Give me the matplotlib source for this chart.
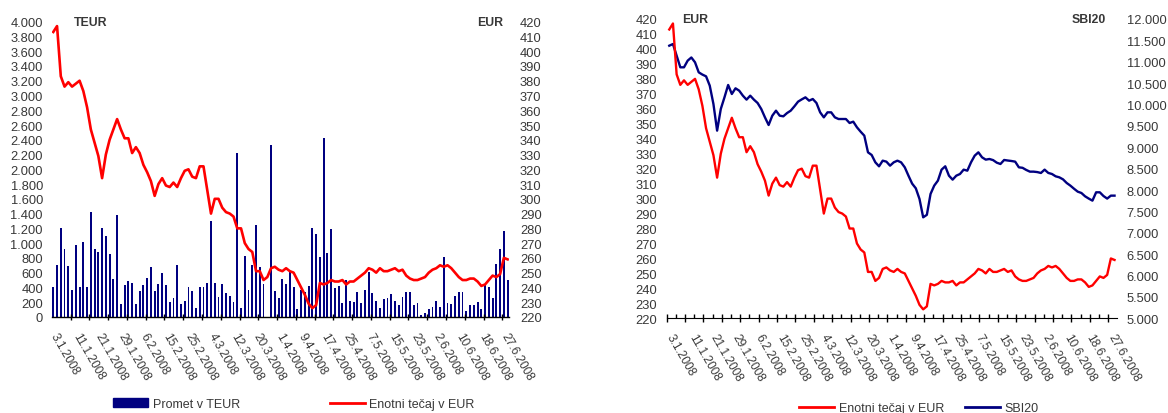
import matplotlib.pyplot as plt
from matplotlib.ticker import FixedLocator, FuncFormatter, MultipleLocator
from matplotlib.lines import Line2D
from matplotlib.patches import Patch

plt.rcParams["font.family"] = ["Liberation Sans", "DejaVu Sans"]
plt.rcParams["font.size"] = 8.7

dates = ["3.1.2008", "11.1.2008", "21.1.2008", "29.1.2008", "6.2.2008", "15.2.2008",
         "25.2.2008", "4.3.2008", "12.3.2008", "20.3.2008", "1.4.2008", "9.4.2008",
         "17.4.2008", "25.4.2008", "7.5.2008", "15.5.2008", "23.5.2008", "2.6.2008",
         "10.6.2008", "18.6.2008", "27.6.2008"]

# Enotni tecaj v EUR (daily)
price = [413, 417, 383, 376, 379, 376, 378, 380, 373, 362,
         347, 338, 329, 314, 330, 340, 347, 354, 347, 341,
         341, 331, 335, 331, 323, 318, 312, 302, 310, 314,
         309, 308, 311, 308, 314, 319, 320, 315, 314, 322,
         322, 306, 290, 300, 300, 294, 291, 290, 288, 280,
         280, 270, 266, 264, 251, 251, 245, 247, 253, 254,
         252, 251, 253, 251, 250, 245, 240, 235, 229, 226,
         228, 243, 242, 243, 245, 244, 244, 245, 242, 244,
         244, 246, 248, 250, 253, 252, 250, 253, 251, 251,
         252, 253, 251, 252, 248, 246, 245, 245, 246, 247,
         250, 252, 253, 255, 254, 255, 253, 250, 247, 245,
         245, 246, 246, 244, 241, 242, 245, 248, 247, 249,
         260, 259]

# Promet v TEUR (daily)
turnover = [400, 700, 1200, 915, 685, 360, 970, 400, 1010, 400,
            1420, 920, 880, 1200, 1100, 850, 520, 1380, 170, 430,
            490, 465, 170, 350, 430, 530, 670, 350, 440, 590,
            430, 200, 250, 700, 170, 220, 400, 350, 120, 400,
            410, 460, 1300, 460, 270, 440, 320, 280, 200, 2220,
            120, 830, 370, 700, 1250, 670, 440, 0, 2330, 350,
            257, 515, 447, 628, 406, 108, 366, 334, 424, 1206,
            1124, 817, 2430, 867, 1192, 397, 424, 194, 501, 217,
            199, 343, 194, 366, 605, 325, 217, 126, 244, 257,
            312, 217, 167, 267, 339, 339, 163, 190, 27, 50,
            108, 131, 217, 136, 817, 190, 176, 285, 339, 339,
            81, 163, 163, 203, 108, 434, 406, 257, 718, 921,
            1165, 501]

# SBI20 index (daily)
sbi20 = [11376, 11415, 11143, 10870, 10870, 11026, 11100, 10987, 10753, 10700,
         10659, 10441, 10012, 9389, 9895, 10168, 10457, 10246, 10379, 10324,
         10207, 10114, 10207, 10114, 10036, 9895, 9700, 9521, 9739, 9856,
         9739, 9724, 9800, 9856, 9957, 10067, 10120, 10168, 10090, 10129,
         10036, 9817, 9700, 9817, 9817, 9700, 9661, 9661, 9661, 9568,
         9599, 9467, 9365, 9272, 8882, 8820, 8648, 8555, 8687, 8664,
         8570, 8648, 8687, 8648, 8531, 8336, 8150, 8040, 7791, 7362,
         7420, 7908, 8103, 8220, 8477, 8555, 8336, 8243, 8336, 8375,
         8477, 8453, 8648, 8804, 8882, 8765, 8711, 8726, 8700, 8640,
         8609, 8703, 8690, 8679, 8664, 8531, 8520, 8470, 8430, 8430,
         8420, 8399, 8477, 8400, 8375, 8321, 8297, 8250, 8165, 8103,
         8030, 7962, 7931, 7853, 7800, 7752, 7947, 7947, 7860, 7800,
         7869, 7869]

days = list(range(len(price)))
label_pos = days[::6]

NAVY = "#000080"
RED = "#ff0000"
TXT = "#383838"
YFS = 9.3


def dotfmt(v, pos):
    return f"{int(round(v)):,}".replace(",", ".")


def style(ax):
    for s in ["left", "right", "top"]:
        ax.spines[s].set_visible(False)
    ax.tick_params(axis="y", length=0, colors=TXT, labelsize=YFS)


def date_labels(ax):
    sec = ax.secondary_xaxis("bottom")
    sec.spines["bottom"].set_visible(False)
    sec.set_xticks(label_pos)
    sec.set_xticklabels(dates, rotation=-60, ha="left", va="center",
                        rotation_mode="anchor", color=TXT, fontsize=8.6)
    sec.tick_params(axis="x", length=0, pad=12)


fig = plt.figure(figsize=(11.68, 4.14), dpi=100)

# ---- left chart: turnover bars + price line
ax1 = fig.add_axes([0.0445, 0.232, 0.3917, 0.7133])
ax1.bar(days, turnover, width=0.5, color=NAVY)
ax1.set_ylim(0, 4000)
ax1.set_xlim(-0.35, 121.5)
ax1.yaxis.set_major_locator(MultipleLocator(200))
ax1.yaxis.set_major_formatter(FuncFormatter(dotfmt))
style(ax1)
ax1.tick_params(axis="y", pad=6.5)
ax1.xaxis.set_major_locator(FixedLocator([-0.4 + 5 * k for k in range(25)]))
ax1.tick_params(axis="x", direction="inout", length=5, width=1, labelbottom=False)
ax1.spines["bottom"].set_linewidth(1)
date_labels(ax1)

ax1b = ax1.twinx()
ax1b.plot(days, price, color=RED, linewidth=1.9)
ax1b.set_ylim(220, 420)
ax1b.yaxis.set_major_locator(MultipleLocator(10))
style(ax1b)
ax1b.spines["bottom"].set_visible(False)
ax1b.tick_params(axis="y", pad=7.5)

fig.text(74 / 1168, 1 - 22.7 / 414, "TEUR", ha="left", va="center",
         weight="bold", color=TXT, fontsize=8.8)
fig.text(503 / 1168, 1 - 22.7 / 414, "EUR", ha="right", va="center",
         weight="bold", color=TXT, fontsize=8.8)

h1 = [Patch(color=NAVY), Line2D([], [], color=RED, linewidth=2)]
fig.legend(h1, ["Promet v TEUR", "Enotni tečaj v EUR"], loc="center left",
           bbox_to_anchor=(107 / 1168, 1 - 405 / 414), ncol=2, frameon=False,
           handlelength=2.8, handletextpad=0.35, columnspacing=7.2, borderpad=0,
           fontsize=9, labelcolor=TXT)

# ---- right chart: price line + SBI20
ax2 = fig.add_axes([0.5708, 0.2287, 0.3855, 0.723])
ax2.plot(days, price, color=RED, linewidth=1.7)
ax2.set_ylim(220, 420)
ax2.set_xlim(-0.7, 121.66)
ax2.yaxis.set_major_locator(MultipleLocator(10))
style(ax2)
ax2.tick_params(axis="y", pad=7)
ax2.xaxis.set_major_locator(FixedLocator([-0.7 + 5 * k for k in range(25)]))
ax2.xaxis.set_minor_locator(FixedLocator([1.8 + 5 * k for k in range(25)]))
ax2.tick_params(axis="x", which="major", direction="inout", length=6, width=1,
                labelbottom=False)
ax2.tick_params(axis="x", which="minor", direction="in", length=3, width=1)
date_labels(ax2)

ax2b = ax2.twinx()
ax2b.plot(days, sbi20, color=NAVY, linewidth=1.7)
ax2b.set_ylim(5000, 12000)
ax2b.yaxis.set_major_locator(MultipleLocator(500))
ax2b.yaxis.set_major_formatter(FuncFormatter(dotfmt))
style(ax2b)
ax2b.spines["bottom"].set_visible(False)
ax2b.tick_params(axis="y", pad=7)
ax2.set_zorder(ax2b.get_zorder() + 1)
ax2.patch.set_visible(False)

fig.text(682 / 1168, 1 - 20 / 414, "EUR", ha="left", va="center",
         weight="bold", color=TXT, fontsize=8.8)
fig.text(1106 / 1168, 1 - 20 / 414, "SBI20", ha="right", va="center",
         weight="bold", color=TXT, fontsize=8.8)

h2 = [Line2D([], [], color=RED, linewidth=2), Line2D([], [], color=NAVY, linewidth=2)]
fig.legend(h2, ["Enotni tečaj v EUR", "SBI20"], loc="center left",
           bbox_to_anchor=(793 / 1168, 1 - 409 / 414), ncol=2, frameon=False,
           handlelength=2.8, handletextpad=0.35, columnspacing=1.7, borderpad=0,
           fontsize=9, labelcolor=TXT)

fig.savefig("out.png", dpi=100)
